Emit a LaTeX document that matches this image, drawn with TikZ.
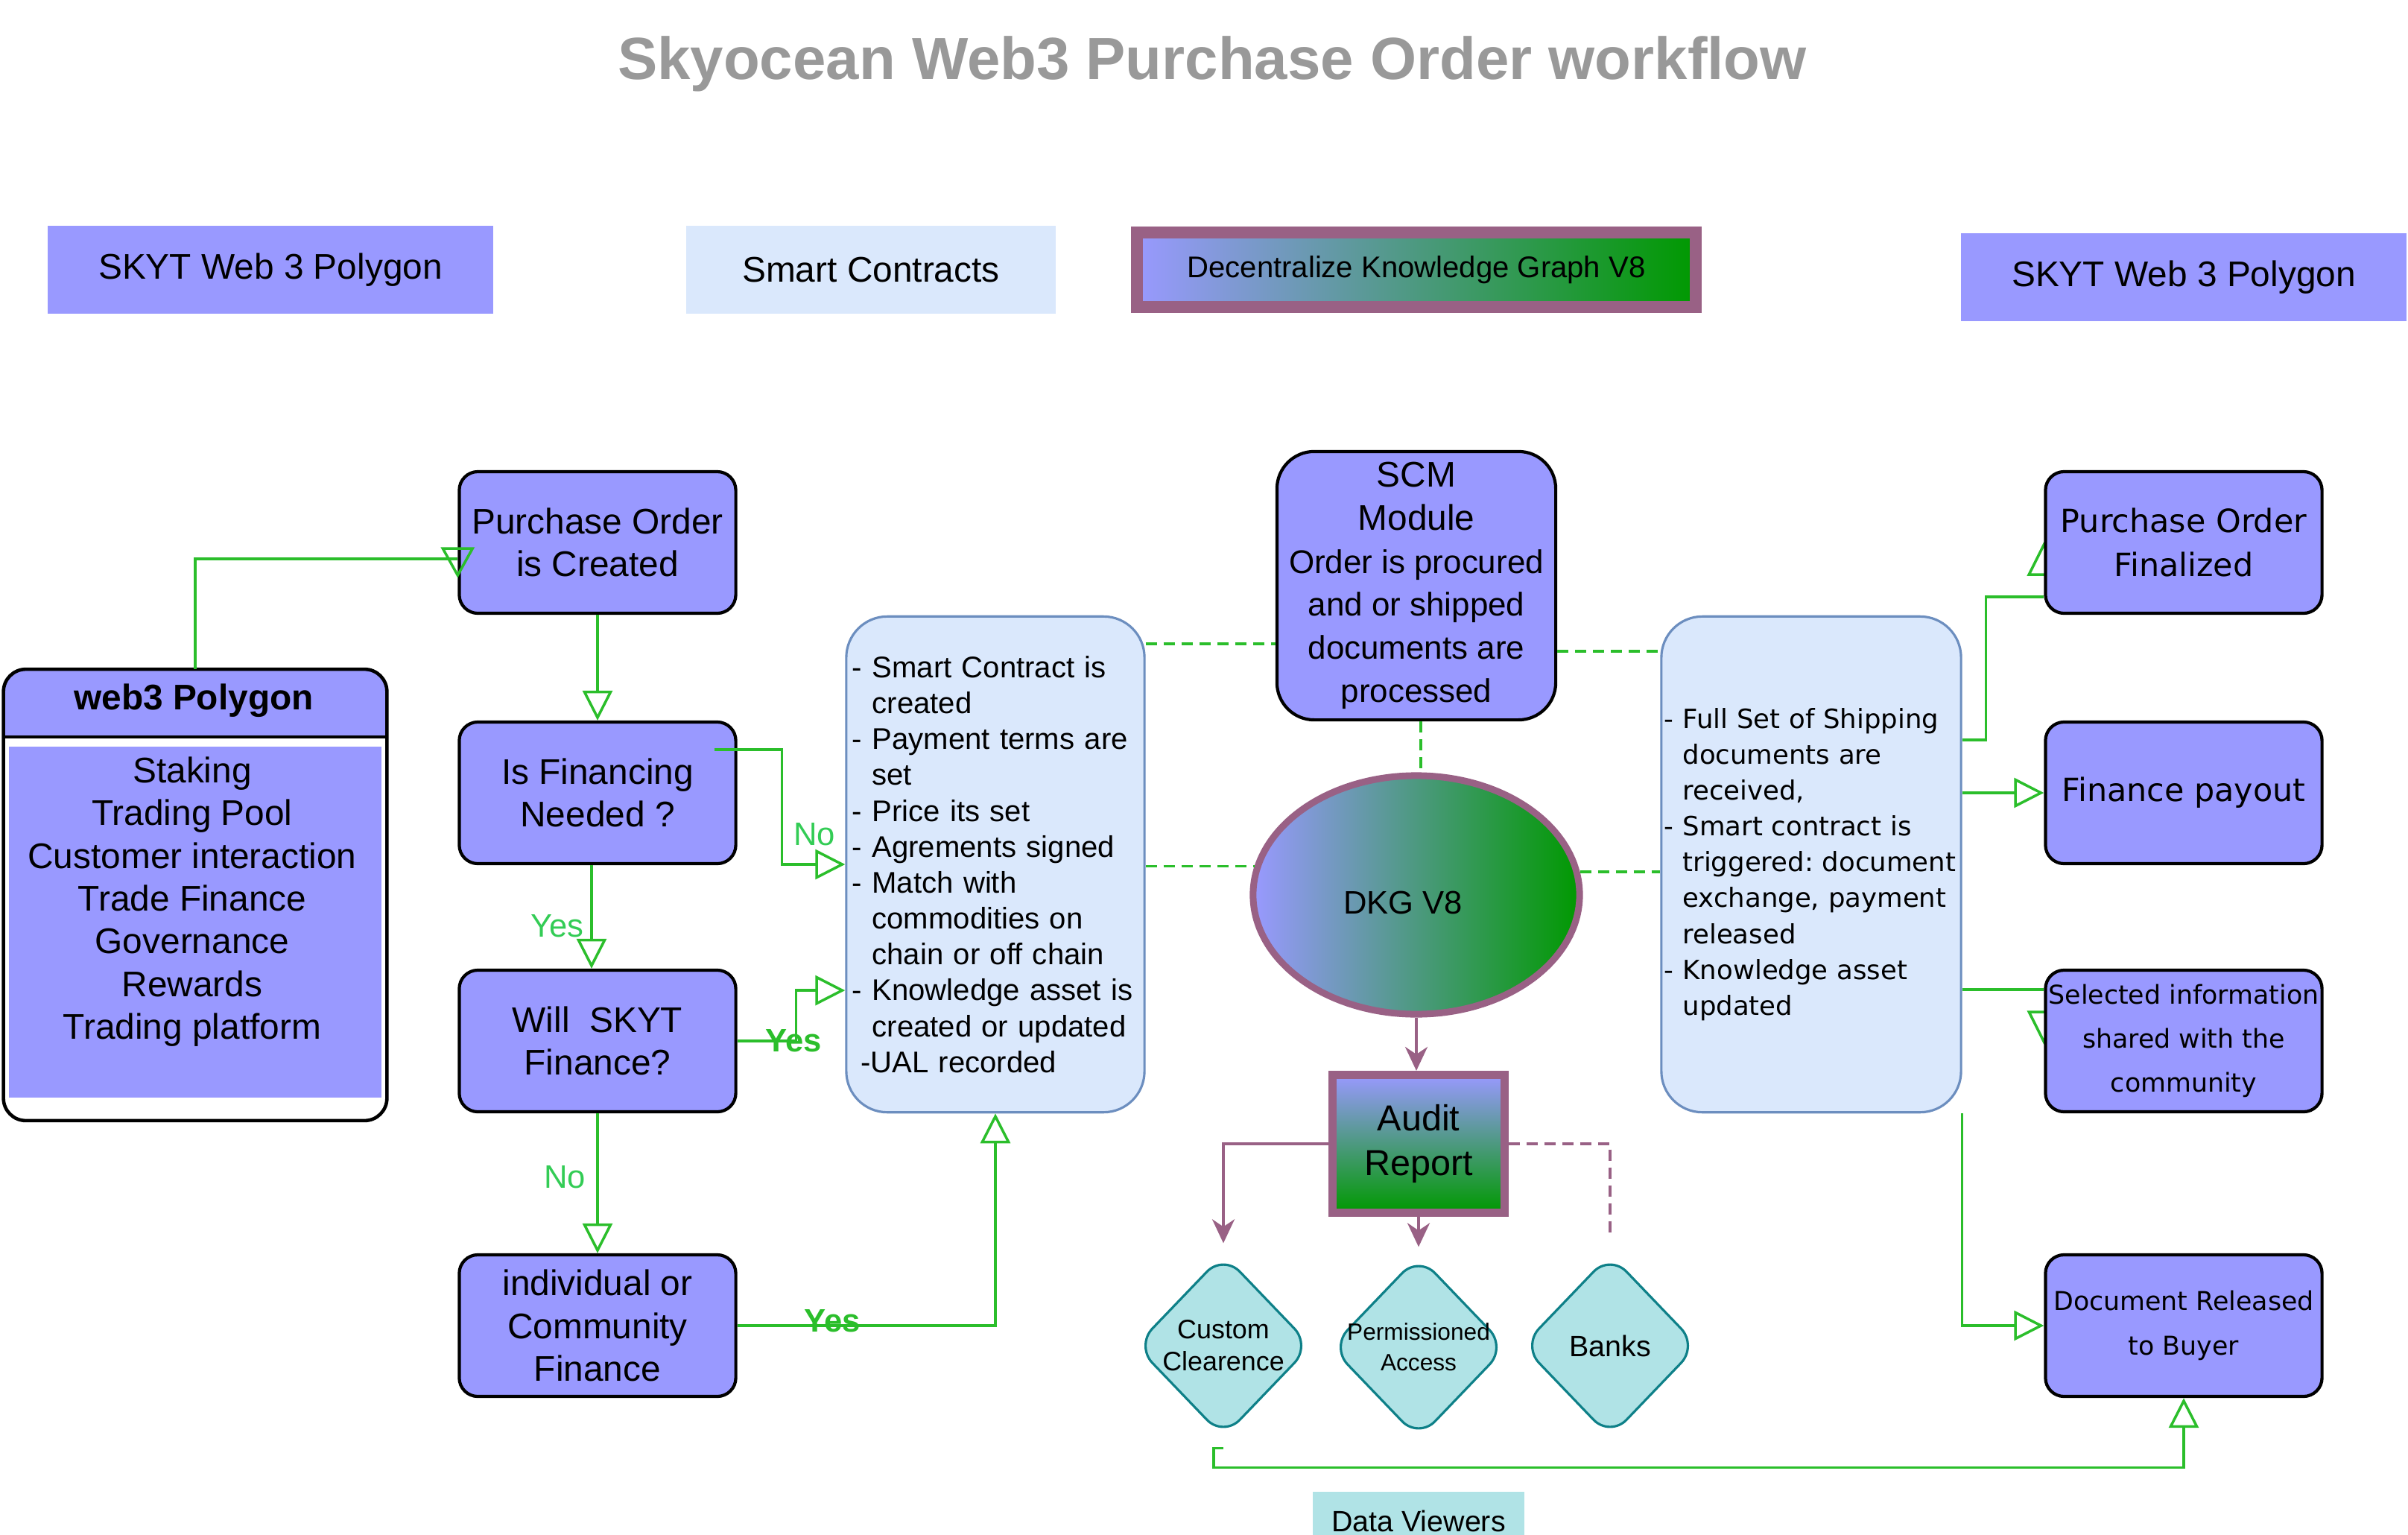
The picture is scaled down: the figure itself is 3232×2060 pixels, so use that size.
\documentclass[tikz,border=0pt]{standalone}
\usepackage{fontspec}
\setmainfont{Liberation Sans}
\newfontfamily\verdana{DejaVu Sans}
\usetikzlibrary{arrows.meta,shapes.geometric,calc,backgrounds}

\definecolor{pbox}{HTML}{9999FF}
\definecolor{lblue}{HTML}{DAE8FC}
\definecolor{lblueline}{HTML}{6C8EBF}
\definecolor{purp}{HTML}{996185}
\definecolor{dkgreen}{HTML}{009900}
\definecolor{vfill}{HTML}{B0E3E6}
\definecolor{vline}{HTML}{0E8088}
\definecolor{lgreen}{HTML}{2BBE2B}
\definecolor{lbgreen}{HTML}{33CC55}
\definecolor{titlegray}{HTML}{999999}

\newcommand{\fsz}[2]{\fontsize{#1}{#2}\selectfont}
\newcommand{\dashind}{\hphantom{- }}

\tikzset{
  flowbox/.style={draw=black, line width=1.2pt, fill=pbox, rounded corners=0.25cm,
    minimum width=3.71cm, minimum height=1.9cm, align=center, inner sep=0pt,
    font=\fsz{13.6}{16.4}},
  rightbox/.style={flowbox, font=\verdana\fsz{12.2}{17}},
  notebox/.style={draw=lblueline, line width=0.9pt, fill=lblue, rounded corners=0.55cm,
    minimum height=6.65cm, align=left, inner ysep=0pt},
  tagbox/.style={fill=pbox, minimum width=5.98cm, minimum height=1.17cm,
    font=\fsz{13.6}{16.4}},
  viewer/.style={diamond, draw=vline, line width=0.9pt, fill=vfill, rounded corners=0.32cm,
    minimum width=2.36cm, minimum height=2.46cm, inner sep=0pt},
  greenline/.style={draw=lgreen, line width=1pt},
  flowarrow/.style={greenline, -{Triangle[open,length=0.4cm,width=0.4cm]}},
  dashlink/.style={greenline, dash pattern=on 0.15cm off 0.09cm},
  auditarrow/.style={draw=purp, line width=1.1pt, -{Stealth[length=0.32cm,width=0.3cm,inset=0.1cm]}},
  auditdash/.style={draw=purp, line width=1.1pt, dash pattern=on 0.15cm off 0.09cm},
  lbl/.style={text=lbgreen, font=\fsz{12.4}{14}},
  boldlbl/.style={text=lgreen, font=\bfseries\fsz{12.4}{14}}
}

\begin{document}
\begin{tikzpicture}[x=0.01cm, y=-0.01cm]
\useasboundingbox (0,0) rectangle (3232,2060);

\node[font=\bfseries\fsz{22.7}{27}, text=titlegray] (title) at (1627,86) {Skyocean Web3 Purchase Order workflow};

\node[tagbox] (skytl) at (363,362) {SKYT Web 3 Polygon};
\node[tagbox, fill=lblue, minimum width=4.95cm] (smartlbl) at (1169,362) {Smart Contracts};
\node[draw=purp, line width=0.16cm, left color=pbox, right color=dkgreen, minimum width=7.5cm,
  minimum height=0.99cm, font=\fsz{11.4}{13}] (dkglbl) at (1901,362) {Decentralize Knowledge Graph V8};
\node[tagbox, minimum height=1.18cm] (skytr) at (2931,372) {SKYT Web 3 Polygon};

% web3 Polygon lane
\node[fill=white, rounded corners=0.3cm, minimum width=5.13cm, minimum height=6.04cm] (lane) at (262,1201) {};
\coordinate (hdr) at (0,989);
\begin{scope}
  \clip[rounded corners=0.3cm] (lane.south west) rectangle (lane.north east);
  \fill[pbox] (lane.north west) rectangle (lane.east |- hdr);
\end{scope}
\draw[line width=1.3pt, rounded corners=0.3cm] (lane.south west) rectangle (lane.north east);
\draw[line width=1.3pt] (lane.west |- hdr) -- (lane.east |- hdr);
\fill[pbox] (12,1002) rectangle (512,1473);
\node[font=\bfseries\fsz{13.6}{16.4}] (lanehead) at (260,940) {web3 Polygon};
\node[align=center, font=\fsz{13.6}{16.3}] (lanelist) at (258,1210)
  {Staking\\Trading Pool\\Customer interaction\\Trade Finance\\Governance\\Rewards\\Trading platform};

\node[flowbox] (po) at (802,728) {Purchase Order\\is Created};
\node[flowbox] (fin) at (802,1064) {Is Financing\\Needed ?};
\node[flowbox] (will) at (802,1397) {Will\ \ SKYT\\Finance?};
\node[flowbox] (indiv) at (802,1779) {individual or\\Community\\Finance};

\node[notebox, text width=3.84cm, inner xsep=0.08cm, font=\fsz{11.4}{13.7}] (smart) at (1336,1160)
  {- Smart Contract is\\\dashind created\\- Payment terms are\\\dashind set\\- Price its set\\- Agrements signed\\
   - Match with\\\dashind commodities on\\\dashind chain or off chain\\- Knowledge asset is\\
   \dashind created or updated\\\hspace*{0.28em}-UAL recorded};

\node[flowbox, rounded corners=0.5cm, minimum width=3.74cm, minimum height=3.6cm, font=\fsz{12.5}{16.4}] (scm) at (1901,786)
  {{\fsz{13.6}{16.4}SCM}\\{\fsz{13.6}{16.4}Module}\\Order is procured\\and or shipped\\documents are\\processed};

\node[ellipse, draw=purp, line width=0.09cm, left color=pbox, right color=dkgreen, minimum width=4.38cm,
  minimum height=3.2cm, label={[font=\fsz{12.4}{14}, xshift=-0.18cm, yshift=-0.1cm]center:DKG V8}] (dkg) at (1901,1201) {};

\node[draw=purp, line width=0.11cm, top color=pbox, bottom color=dkgreen, minimum width=2.3cm,
  minimum height=1.85cm, align=center, font=\fsz{13.8}{17}] (audit) at (1904,1535) {Audit\\Report};

\node[viewer, label={[font=\fsz{10.2}{12.3}, align=center]center:Custom\\Clearence}] (cc) at (1642,1806) {};
\node[viewer, label={[font=\fsz{9}{11.7}, align=center]center:Permissioned\\Access}] (pa) at (1904,1808) {};
\node[viewer, label={[font=\fsz{11.2}{13}]center:Banks}] (banks) at (2161,1806) {};
\node[fill=vfill, minimum width=2.83cm, minimum height=0.8cm, anchor=north, font=\fsz{11.2}{13}] (viewers) at (1904,2001) {Data Viewers};

\node[notebox, text width=3.94cm, inner xsep=0.04cm, font=\verdana\fsz{10.1}{13.7}\frenchspacing] (rbox) at (2431,1160)
  {- Full Set of Shipping\\\dashind documents are\\\dashind received,\\- Smart contract is\\
   \dashind triggered: document\\\dashind exchange, payment\\\dashind released\\- Knowledge asset\\\dashind updated};

\node[rightbox] (pofin) at (2931,728) {Purchase Order\\Finalized};
\node[rightbox] (finpay) at (2931,1064) {Finance payout};
\node[rightbox, font=\verdana\fsz{9.9}{16.7}] (selinfo) at (2931,1397) {Selected information\\shared with the\\community};
\node[rightbox, font=\verdana\fsz{9.9}{17}] (docrel) at (2931,1779) {Document Released\\to Buyer};

% left flow
\coordinate (potip) at ([yshift=-0.22cm]po.west);
\draw[greenline] (lane.north) |- (potip);
\draw[greenline] ([shift={(-20,-14)}]potip) -- ++(40,0) -- ++(-20,36) -- cycle;
\draw[flowarrow] (po) -- (fin);
\draw[flowarrow] ([shift={(-31,-58)}]fin.east) -- ++(91,0) |- (smart.west);
\draw[flowarrow] ([xshift=-0.08cm]fin.south) -- ([xshift=-0.08cm]will.north);
\draw[flowarrow] (will.east) -- ++(79,0) |- ([yshift=-1.69cm]smart.west);
\draw[flowarrow] (will) -- (indiv);
\draw[flowarrow] (indiv.east) -| (smart.south);
\node[lbl] (no1) at (1093,1120) {No};
\node[lbl] (yes1) at (748,1243) {Yes};
\node[boldlbl] (yes2) at (1065,1397) {Yes};
\node[lbl] (no2) at (758,1580) {No};
\node[boldlbl] (yes3) at (1117,1773) {Yes};

% knowledge graph links
\coordinate (scmlink) at (0,864);
\coordinate (rlink) at (0,874);
\draw[dashlink] (smart.east |- scmlink) -- (scm.west |- scmlink);
\draw[dashlink] (scm.east |- rlink) -- (rbox.west |- rlink);
\draw[dashlink] ([xshift=0.06cm]scm.south) -- ([xshift=0.06cm]dkg.north);
\draw[dashlink] (smart.east |- dkg.170) -- (dkg.170);
\draw[dashlink] (dkg.8) -- (rbox.west |- dkg.8);

\draw[auditarrow] (dkg.south) -- (dkg.south |- audit.north);
\draw[auditarrow] (audit.west) -| ([yshift=0.13cm]cc.north);
\draw[auditarrow] (audit.south) -- ([yshift=0.1cm]pa.north);
\draw[auditdash] (audit.east) -| ([yshift=0.22cm]banks.north);

% right flow
\coordinate (finline) at ([yshift=-0.73cm]pofin.west);
\coordinate (shareline) at ([yshift=0.69cm]selinfo.west);
\draw[greenline] (rbox.east |- 0,993) -- ++(32,0) |- (finline);
\draw[flowarrow] (rbox.east |- finpay.west) -- (finpay.west);
\draw[greenline] (rbox.east |- shareline) -- (shareline);
\draw[flowarrow] (rbox.south east) |- (docrel.west);
\draw[flowarrow] ([yshift=-0.13cm]cc.south) -- ++(-13,0) -- ++(0,26) -| (docrel.south);
\begin{scope}[on background layer]
  \draw[greenline] ([shift={(-20,43)}]pofin.west) -- ++(40,0) -- ++(-20,-40) -- cycle;
  \draw[greenline] ([shift={(-20,-39)}]selinfo.west) -- ++(40,0) -- ++(-20,40) -- cycle;
\end{scope}
\end{tikzpicture}
\end{document}
